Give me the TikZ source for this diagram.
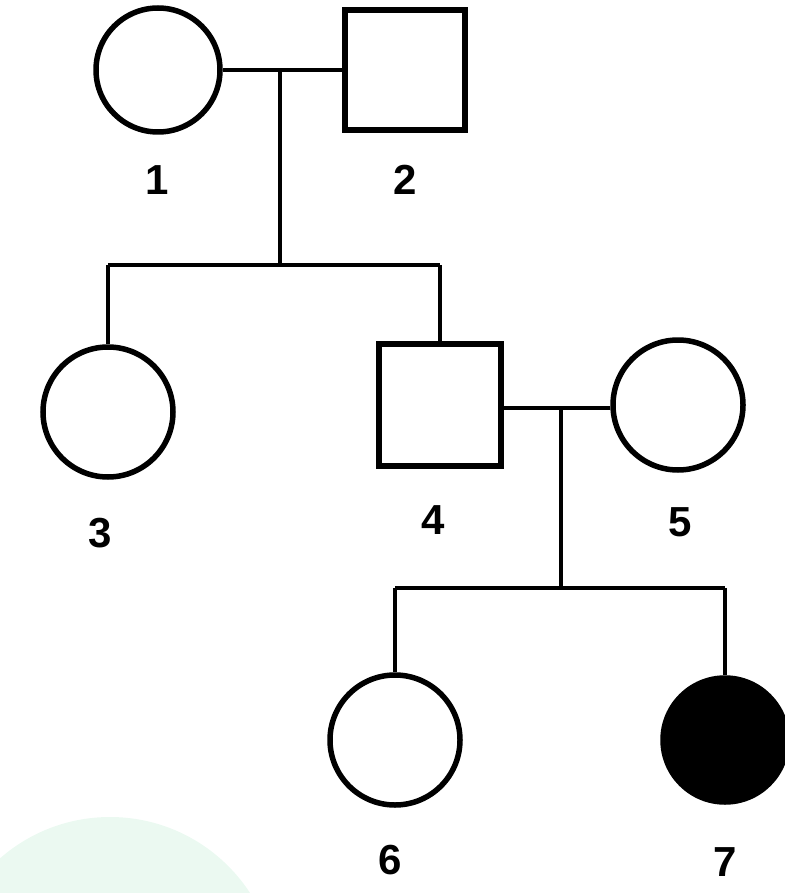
\documentclass[tikz,border=0pt]{standalone}
\usepackage{fontspec}
\setmainfont{Liberation Sans}
\begin{document}
\begin{tikzpicture}[x=1pt,y=-1pt,
  person/.style={draw=black,line width=5.5pt,fill=white,inner sep=0pt,minimum size=#1},
  female/.style={person=#1,circle},
  male/.style={person=#1,rectangle},
  affected/.style={fill=black},
  link/.style={draw=black,line width=4pt},
  lab/.style={font=\fontsize{42}{42}\selectfont\bfseries,inner sep=0pt}]
\useasboundingbox (0,0) rectangle (784,893);
\begin{scope}
\clip (0,0) rectangle (784,893);
\fill[green!40!teal!8] (110,984) circle (167);
\end{scope}
% generation I
\node[female=124pt] (p1) at (158,70) {};
\node[male=120pt] (p2) at (405,70) {};
\coordinate (m1) at (280,72);
\draw[link] (p1.east) -- (p2.west);
\coordinate (s1) at (280,265);
\draw[link] (m1) -- (s1);
% generation II
\node[female=130pt] (p3) at (108,412) {};
\node[male=122pt] (p4) at (440,405) {};
\node[female=130pt] (p5) at (678,405) {};
\coordinate (c3) at (p3.north |- s1);
\coordinate (c4) at (p4.north |- s1);
\draw[link] (c3) -- (c4);
\draw[link] (c3) -- (p3.north);
\draw[link] (c4) -- (p4.north);
\coordinate (m2) at (561,408);
\draw[link] (p4.east |- m2) -- (p5.west |- m2);
\coordinate (s2) at (561,588);
\draw[link] (m2) -- (s2);
% generation III
\node[female=130pt] (p6) at (395,740) {};
\node[female=124pt,affected] (p7) at (725,740) {};
\coordinate (c6) at (p6.north |- s2);
\coordinate (c7) at (p7.north |- s2);
\draw[link] (c6) -- (c7);
\draw[link] (c6) -- (p6.north);
\draw[link] (c7) -- (p7.north);
% labels
\node[lab] (l1) at (157,180) {1};
\node[lab] (l2) at (405,180) {2};
\node[lab] (l3) at (100,533) {3};
\node[lab] (l4) at (433,520) {4};
\node[lab] (l5) at (680,522) {5};
\node[lab] (l6) at (390,860) {6};
\node[lab] (l7) at (725,862) {7};
\end{tikzpicture}
\end{document}
